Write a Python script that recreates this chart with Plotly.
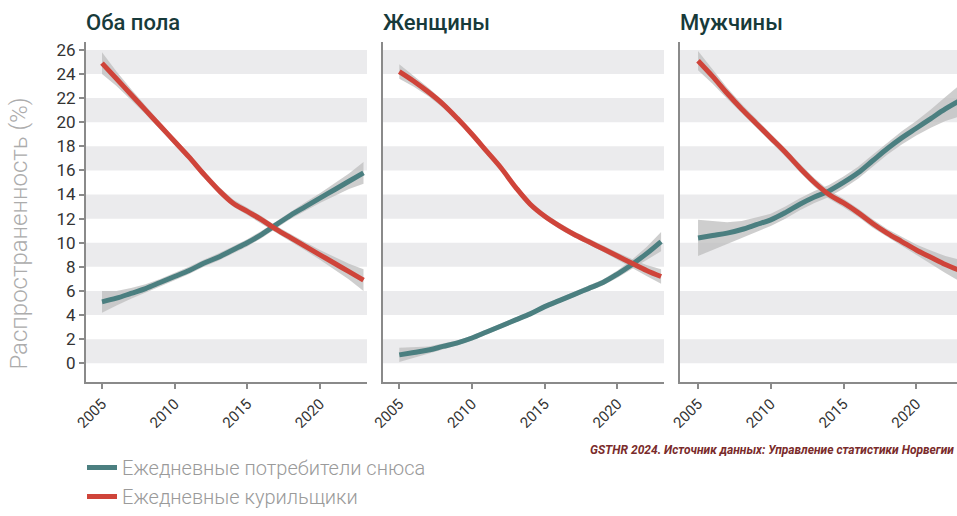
import plotly.graph_objects as go

years = list(range(2005, 2024))
panel_titles = ["Оба пола", "Женщины", "Мужчины"]
series_names = ["Ежедневные потребители снюса", "Ежедневные курильщики"]

both_snus = [5.1, 5.4, 5.8, 6.2, 6.7, 7.2, 7.7, 8.3, 8.8, 9.4, 10.0, 10.7, 11.5, 12.3, 13.0, 13.7, 14.4, 15.1, 15.8]
both_smoke = [24.9, 23.6, 22.3, 21.0, 19.7, 18.4, 17.1, 15.7, 14.4, 13.3, 12.6, 11.9, 11.1, 10.4, 9.7, 9.0, 8.3, 7.6, 6.9]
women_snus = [0.7, 0.9, 1.1, 1.4, 1.7, 2.1, 2.6, 3.1, 3.6, 4.1, 4.7, 5.2, 5.7, 6.2, 6.7, 7.4, 8.2, 9.1, 10.1]
women_smoke = [24.2, 23.4, 22.5, 21.5, 20.3, 19.0, 17.6, 16.2, 14.6, 13.2, 12.2, 11.4, 10.7, 10.1, 9.5, 8.9, 8.3, 7.7, 7.2]
men_snus = [10.4, 10.6, 10.8, 11.1, 11.5, 11.9, 12.5, 13.2, 13.8, 14.3, 15.0, 15.8, 16.8, 17.8, 18.7, 19.5, 20.3, 21.1, 21.8]
men_smoke = [25.1, 23.8, 22.4, 21.1, 19.9, 18.7, 17.5, 16.2, 15.0, 14.0, 13.3, 12.5, 11.6, 10.8, 10.1, 9.4, 8.8, 8.2, 7.7]

# confidence half-widths
both_snus_ci = [0.9, 0.6, 0.45, 0.35, 0.3, 0.3, 0.3, 0.3, 0.3, 0.3, 0.3, 0.3, 0.3, 0.3, 0.35, 0.4, 0.5, 0.65, 0.9]
both_smoke_ci = [0.9, 0.6, 0.45, 0.35, 0.3, 0.3, 0.3, 0.3, 0.3, 0.3, 0.3, 0.3, 0.3, 0.3, 0.35, 0.4, 0.5, 0.65, 0.9]
women_snus_ci = [0.6, 0.45, 0.3, 0.25, 0.2, 0.2, 0.2, 0.2, 0.2, 0.2, 0.2, 0.2, 0.2, 0.2, 0.25, 0.3, 0.4, 0.55, 0.8]
women_smoke_ci = [0.6, 0.45, 0.35, 0.3, 0.25, 0.25, 0.25, 0.25, 0.25, 0.25, 0.25, 0.25, 0.25, 0.25, 0.25, 0.3, 0.35, 0.45, 0.6]
men_snus_ci = [1.5, 1.2, 0.9, 0.7, 0.6, 0.5, 0.5, 0.5, 0.5, 0.5, 0.5, 0.5, 0.5, 0.5, 0.55, 0.6, 0.75, 1.0, 1.3]
men_smoke_ci = [0.8, 0.6, 0.45, 0.4, 0.35, 0.35, 0.35, 0.35, 0.35, 0.35, 0.35, 0.35, 0.35, 0.35, 0.4, 0.45, 0.55, 0.7, 0.9]

yticks = list(range(0, 27, 2))
xticks = [2005, 2010, 2015, 2020]

TEAL = "#4b7f80"
RED = "#cf443a"
CI = "rgba(190,190,190,0.75)"
BAND = "#ebebed"
AXIS = "#8a8a8a"

W, H = 957, 516
HV = 500  # effective vertical extent observed in the rendered capture
panels_px = [(86, 367), (383, 664), (680, 957)]
xranges = [[2003.9, 2023.24], [2003.88, 2023.2], [2003.76, 2022.8]]


def fy(px):
    return 1 - px / HV


ydom = [fy(383), fy(42)]
yrange = [-1.57, 26.66]

data = [
    (both_snus, both_snus_ci, both_smoke, both_smoke_ci),
    (women_snus, women_snus_ci, women_smoke, women_smoke_ci),
    (men_snus, men_snus_ci, men_smoke, men_smoke_ci),
]

fig = go.Figure()
for i, (sn, snci, sm, smci) in enumerate(data):
    xa = "x" if i == 0 else f"x{i+1}"
    ya = "y" if i == 0 else f"y{i+1}"
    for vals, ci in ((sn, snci), (sm, smci)):
        up = [v + c for v, c in zip(vals, ci)]
        lo = [v - c for v, c in zip(vals, ci)]
        fig.add_trace(go.Scatter(x=years + years[::-1], y=up + lo[::-1], fill="toself",
                                 fillcolor=CI, line=dict(width=0), mode="lines",
                                 hoverinfo="skip", showlegend=False, xaxis=xa, yaxis=ya))
    for j, (vals, col) in enumerate(((sn, TEAL), (sm, RED))):
        fig.add_trace(go.Scatter(x=years, y=vals, mode="lines", line=dict(color=col, width=5, shape="spline"),
                                 name=series_names[j], showlegend=(i == 0), xaxis=xa, yaxis=ya))

    for b in range(0, 26, 4):
        fig.add_shape(type="rect", xref=f"{xa} domain", yref=ya, x0=0, x1=1, y0=b, y1=b + 2,
                      fillcolor=BAND, line=dict(width=0), layer="below")

    x0, x1 = panels_px[i]
    axis_common = dict(showgrid=False, zeroline=False, showline=True, linecolor=AXIS, linewidth=2,
                       ticks="outside", tickcolor=AXIS, ticklen=5, tickwidth=1.5, automargin=False)
    xkey = "xaxis" if i == 0 else f"xaxis{i+1}"
    ykey = "yaxis" if i == 0 else f"yaxis{i+1}"
    fig.layout[xkey] = dict(domain=[x0 / W, x1 / W], range=xranges[i], anchor=ya, tickvals=xticks,
                            tickangle=-45, tickfont=dict(size=15, color="#333", family="Roboto"),
                            **axis_common)
    ydict = dict(domain=ydom, range=yrange, anchor=xa, tickvals=yticks, **axis_common)
    if i == 0:
        ydict.update(tickfont=dict(size=17, color="#333", family="Roboto"))
    else:
        ydict.update(showticklabels=False, ticks="")
    fig.layout[ykey] = ydict

    fig.add_annotation(text=panel_titles[i], xref="paper", yref="paper", x=(x0 - 2) / W, y=fy(23),
                       xanchor="left", yanchor="middle", showarrow=False,
                       font=dict(size=22, color="#173a3a", family="Roboto", weight=500))

fig.add_annotation(text="Распространенность (%)", xref="paper", yref="paper", x=19 / W, y=fy(234),
                   xanchor="center", yanchor="middle", textangle=-90, showarrow=False,
                   font=dict(size=24, color="#acacac", family="Roboto", weight=300))

fig.add_annotation(text="<b><i>GSTHR 2024. Источник данных: Управление статистики Норвегии</i></b>",
                   xref="paper", yref="paper", x=956 / W, y=fy(451), xanchor="right", yanchor="middle",
                   showarrow=False, font=dict(size=12, color="#7a2b2b", family="Roboto"))

fig.update_layout(
    width=W, height=H, autosize=False, margin=dict(l=0, r=0, t=0, b=0),
    plot_bgcolor="white", paper_bgcolor="white",
    legend=dict(x=82 / W, y=fy(449), xanchor="left", yanchor="top", orientation="v",
                font=dict(size=20, color="#9a9a9a", family="Roboto", weight=300),
                itemwidth=30, bgcolor="rgba(0,0,0,0)"),
)

page_js = "document.body.style.margin='0';"
fig.write_html("out.html", config={"responsive": False, "displayModeBar": False}, post_script=page_js)
